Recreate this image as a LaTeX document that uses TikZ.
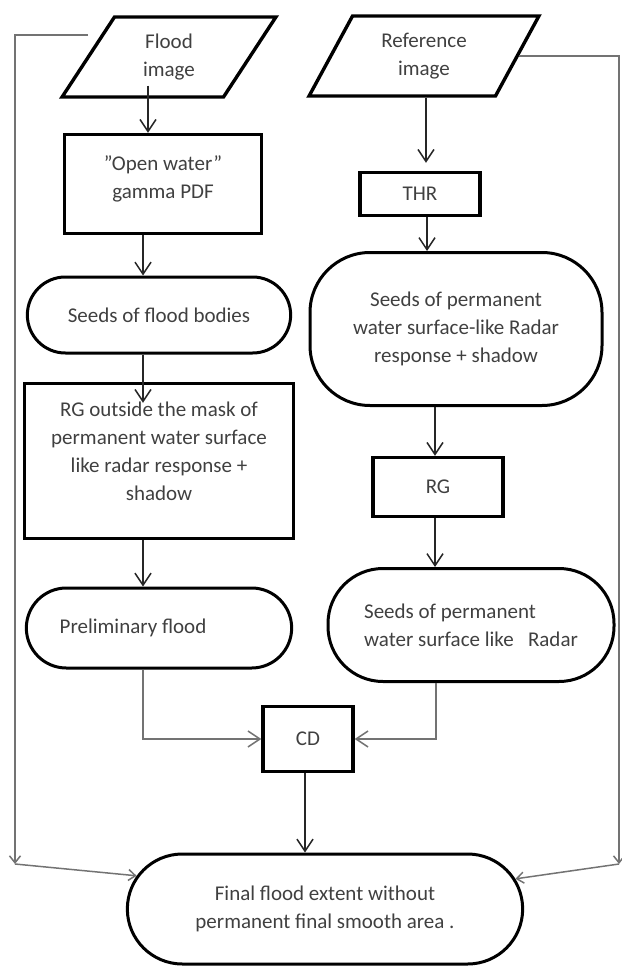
\documentclass[tikz,border=0pt]{standalone}
\usepackage{fontspec}
\setmainfont{Carlito}
\usetikzlibrary{shapes.geometric,shapes.misc,arrows.meta}

\tikzset{
  io/.style={draw, line width=3.4pt, trapezium, trapezium left angle=62,
    trapezium right angle=118, trapezium stretches=true, align=center},
  proc/.style={draw, line width=3.4pt, rectangle, align=center},
  term/.style={draw, line width=3pt, rounded rectangle, align=center},
  soft/.style={draw, line width=3pt, rounded corners=#1, align=center},
  flow/.style={draw=black!85, line width=1.5pt, -{Straight Barb[length=12pt,width=16pt]}},
  merge/.style={draw=black!55, line width=1.5pt, -{Straight Barb[length=12pt,width=16pt]}},
  back/.style={draw=black!55, line width=1.5pt, -{Straight Barb[length=7pt,width=11pt]}}
}

\begin{document}
\begin{tikzpicture}[x=1pt, y=-1pt, font=\fontsize{21}{28}\selectfont, text=black!75]
  \useasboundingbox (0,0) rectangle (621,968);

  \node[io, minimum width=214pt, minimum height=80pt] (flood) at (169,57) {Flood\\image};
  \node[io, minimum width=230pt, minimum height=80pt] (ref) at (424,56) {Reference\\image};
  \node[proc, minimum width=197pt, minimum height=99pt] (water) at (163,184)
    {''Open water''\\gamma PDF\\[-14pt]\mbox{}};
  \node[proc, minimum width=120pt, minimum height=43pt] (thr) at (420,194) {THR};
  \node[term, minimum width=270pt, minimum height=76pt] (bodies) at (159,315) {Seeds of flood bodies};
  \node[soft=60pt, minimum width=292pt, minimum height=153pt] (permseed) at (456,329)
    {Seeds of permanent\\water surface-like Radar\\response + shadow};
  \node[proc, minimum width=269pt, minimum height=155pt] (rgout) at (159,461)
    {RG outside the mask of\\permanent water surface\\like radar response +\\shadow\\[-8pt]\mbox{}};
  \node[proc, minimum width=130pt, minimum height=59pt] (rg) at (438,487) {RG};
  \node[term, minimum width=272pt, minimum height=80pt] (prelim) at (159,628)
    {Preliminary flood\hspace*{52pt}};
  \node[soft=55pt, minimum width=286pt, minimum height=113pt, align=left] (radarseed) at (471,625)
    {Seeds of permanent\\water surface like\ \ \ Radar};
  \node[proc, minimum width=90pt, minimum height=65pt] (cd) at (308,739) {CD};
  \node[term, minimum width=402pt, minimum height=110pt] (final) at (325,909)
    {Final flood extent without\\permanent final smooth area .};

  \coordinate (lstart) at (88,35);
  \coordinate (lfoot) at (15,864);
  \coordinate (rfoot) at (619,864);

  \draw[flow] ([xshift=-21pt,yshift=13pt]flood.south) -- ([xshift=-21pt]flood.south |- water.north);
  \draw[flow, shorten >=8pt] ([xshift=2pt]ref.south) -- ([xshift=2pt]ref.south |- thr.north);
  \draw[flow] ([xshift=7pt]thr.south) -- ([xshift=7pt]thr.south |- permseed.north);
  \draw[flow] ([xshift=-20pt]water.south) -- ([xshift=-20pt]water.south |- bodies.north);
  \draw[flow, shorten >=-21pt] ([xshift=-16pt]bodies.south) -- ([xshift=-16pt]bodies.south |- rgout.north);
  \draw[flow] ([xshift=-21pt]permseed.south) -- ([xshift=-21pt]permseed.south |- rg.north);
  \draw[flow] ([xshift=-3pt]rg.south) -- ([xshift=-3pt]rg.south |- radarseed.north);
  \draw[flow] ([xshift=-16pt]rgout.south) -- ([xshift=-16pt]rgout.south |- prelim.north);
  \draw[merge] ([xshift=-16pt]prelim.south) |- (cd.west);
  \draw[merge] ([xshift=-35pt]radarseed.south) |- (cd.east);
  \draw[flow] ([xshift=-3pt]cd.south) -- ([xshift=-3pt]cd.south |- final.north);
  \draw[back] (lstart) -| (lfoot);
  \draw[back] (lfoot) -- (final.170);
  \draw[back] (ref.east) -| (rfoot);
  \draw[back] (rfoot) -- (final.9);
\end{tikzpicture}
\end{document}
